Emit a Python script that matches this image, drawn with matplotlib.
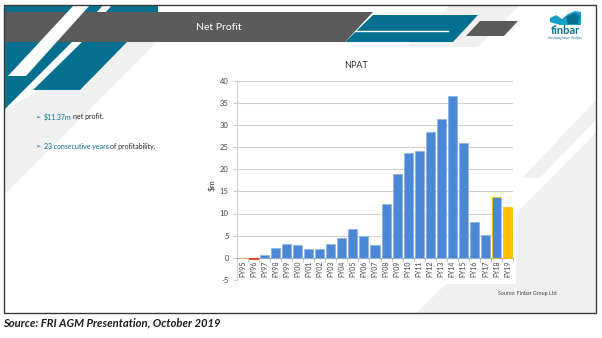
import matplotlib
matplotlib.use("Agg")
import matplotlib.pyplot as plt
from matplotlib.patches import Polygon, Rectangle

years = ["FY95", "FY96", "FY97", "FY98", "FY99", "FY00", "FY01", "FY02", "FY03",
         "FY04", "FY05", "FY06", "FY07", "FY08", "FY09", "FY10", "FY11", "FY12",
         "FY13", "FY14", "FY15", "FY16", "FY17", "FY18", "FY19"]
npat = [-0.15, -0.3, 0.75, 2.25, 3.15, 2.8, 2.0, 2.05, 3.1, 4.4, 6.55, 5.0, 3.0,
        12.1, 18.9, 23.6, 24.0, 28.3, 31.3, 36.5, 25.9, 8.05, 5.1, 13.8, 11.37]
y_ticks = [-5, 0, 5, 10, 15, 20, 25, 30, 35, 40]
bullet_hi = ["$11.37m", "23 consecutive years"]
bullet_rest = ["net profit.", "of profitability."]

TEAL = "#04708f"
GREY = "#5b5b5b"
LIGHT = "#f0f0f0"
BLUE = "#4a88d6"
GOLD = "#ffc000"
FONT = ["Lato", "DejaVu Sans"]
plt.rcParams["font.family"] = FONT

fig = plt.figure(figsize=(6.02, 3.38), dpi=100)

# background "slide" drawn in pixel coordinates
bg = fig.add_axes([0, 0, 1, 1])
bg.set_xlim(0, 602)
bg.set_ylim(338, 0)
bg.axis("off")


def poly(pts, color, z=1):
    bg.add_patch(Polygon(pts, closed=True, facecolor=color, edgecolor="none", zorder=z))


# light grey diagonals
poly([(127, 42), (157, 42), (4, 195), (4, 110)], LIGHT)
poly([(450, 5), (520, 5), (478, 47), (405, 47)], LIGHT)
poly([(596, 100), (596, 120), (540, 178), (522, 178)], LIGHT)
poly([(596, 133), (596, 313), (417, 313)], LIGHT)

# teal shapes on the left
poly([(4, 5), (158, 5), (158, 12), (4, 12)], TEAL, 2)
poly([(4, 42), (72, 42), (4, 110)], TEAL, 2)
poly([(82, 42), (127, 42), (80, 90), (33, 90)], TEAL, 2)
poly([(103, 5), (112, 5), (106, 12), (97, 12)], "white", 2)

# header band
poly([(4, 12), (373, 12), (345, 42), (4, 42)], GREY, 3)
poly([(373, 15), (478, 15), (453, 42), (345, 42)], TEAL, 3)
bg.plot([355, 448], [31, 31], color="white", lw=1.0, zorder=4)
poly([(480, 21), (518, 21), (504, 36), (466, 36)], GREY, 3)
poly([(74, 5), (90, 5), (26, 76), (8, 76)], "white", 4)
bg.text(219, 27, "Net Profit", color="white", fontsize=7.5, ha="center", va="center", zorder=5)

# logo
poly([(550, 18), (556, 15), (562, 19), (568, 14), (575, 11), (581, 12), (581, 25),
      (560, 25), (550, 22)], "#1aa0c8", 4)
poly([(566, 17), (574, 13), (580, 16), (578, 24), (568, 24)], TEAL, 5)
bg.text(565, 31, "finbar", color=TEAL, fontsize=8, fontweight="bold", ha="center", va="center", zorder=5)
bg.text(565, 38.5, "developing better lifestyles", color=TEAL, fontsize=2, ha="center", va="center", zorder=5)

# bullets
fig.canvas.draw()
renderer = fig.canvas.get_renderer()
for i, (hi, rest) in enumerate(zip(bullet_hi, bullet_rest)):
    y = 117 + i * 29
    bg.text(35, y, "\u27a2", fontsize=4.5, color=TEAL, ha="left", va="center", zorder=5,
            family=["DejaVu Sans"])
    t = bg.text(44, y, hi, fontsize=5, color=TEAL, ha="left", va="center", zorder=5)
    bb = t.get_window_extent(renderer)
    bg.text(bb.x1 + 1.6, 338 - y, rest, fontsize=5, color="#262626", ha="left", va="center",
            transform=None, zorder=5)

# chart area
bg.add_patch(Rectangle((205, 58), 311, 226, facecolor="white", edgecolor="none", zorder=2))
bg.text(356, 66, "NPAT", fontsize=6.5, color="#333333", ha="center", va="center", zorder=5)
bg.text(212, 185, "$m", fontsize=6, color="#333333", rotation=90, ha="center", va="center", zorder=5)
bg.text(557, 294, "Source: Finbar Group Ltd", fontsize=3.8, color="#404040", ha="right", va="center", zorder=5)

# slide border
bg.add_patch(Rectangle((4, 5), 592, 308, facecolor="none", edgecolor="#3a3a3a", lw=1.0, zorder=6))
bg.text(3, 323, "Source: FRI AGM Presentation, October 2019", fontsize=8.1, fontweight="bold",
        style="italic", color="#1a1a1a", ha="left", va="center")

ax = fig.add_axes([237 / 602, 1 - 280 / 338, 276 / 602, (280 - 80.5) / 338])
ax.patch.set_alpha(0)
ax.spines["bottom"].set_position(("data", 0))
ax.spines["bottom"].set_color("#a6a6a6")
ax.spines["bottom"].set_linewidth(0.8)
ax.spines["left"].set_color("#d0d0d0")
ax.spines["left"].set_linewidth(0.8)
ax.spines["top"].set_visible(False)
ax.spines["right"].set_visible(False)

x = list(range(len(years)))
colors = [BLUE] * len(years)
edges = ["#8fb4e6"] * len(years)
colors[0], edges[0] = "#f4a460", "#f4a460"
colors[1], edges[1] = "#e0401f", "#e0401f"
edges[-2] = GOLD
colors[-1], edges[-1] = GOLD, GOLD
ax.bar(x, npat, width=0.82, color=colors, edgecolor=edges, linewidth=0.6, zorder=3)

ax.set_xlim(-0.5, len(years) - 0.5)
ax.set_ylim(-5, 40)
ax.set_yticks(y_ticks)
ax.set_yticklabels([str(v) for v in y_ticks], fontsize=5.5, color="#404040")
ax.yaxis.grid(True, color="#d0d0d0", lw=0.8, zorder=0)
ax.set_xticks(x)
ax.set_xticklabels(years, rotation=90, fontsize=5, color="#404040")
ax.set_xticks([v - 0.5 for v in x] + [len(years) - 0.5], minor=True)
ax.tick_params(axis="x", which="major", length=0, pad=2)
ax.tick_params(axis="x", which="minor", length=3, color="#bfbfbf", width=0.6)
ax.tick_params(axis="y", length=3, color="#bfbfbf", width=0.6, pad=3)

fig.savefig("out.png", dpi=100)
